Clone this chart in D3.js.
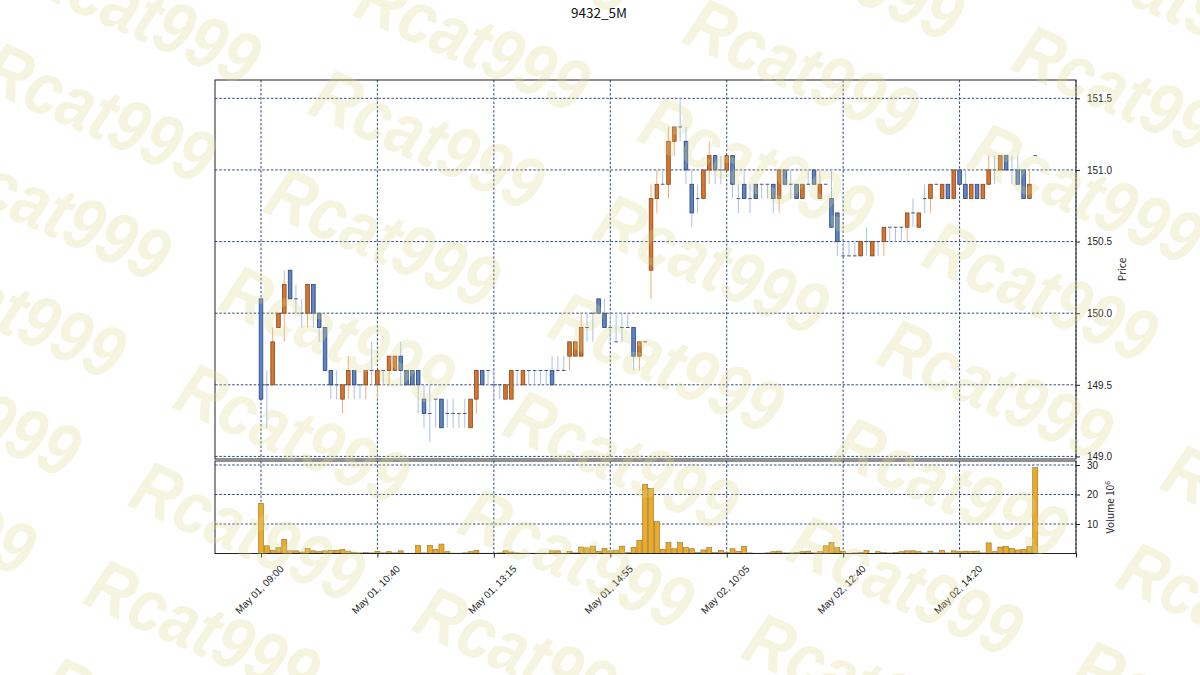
<!DOCTYPE html>
<html>
<head>
<meta charset="utf-8">
<script src="https://cdn.jsdelivr.net/npm/d3@7"></script>
<style>
  body { margin: 0; background: #fff; }
  svg { display: block; font-family: "Noto Sans CJK JP", "Noto Sans", sans-serif; }
</style>
</head>
<body>
<svg id="chart" width="1200" height="675"></svg>
<script>
// 9432, 5 minute bars, May 01 09:00 .. May 02 15:25 (index 0..133)
var tickIdx = [0, 20, 40, 60, 80, 100, 120, 140];
var tickLabels = ["May 01, 09:00", "May 01, 10:40", "May 01, 13:15", "May 01, 14:55",
                  "May 02, 10:05", "May 02, 12:40", "May 02, 14:20", ""];
var priceTicks = [149.0, 149.5, 150.0, 150.5, 151.0, 151.5];
var volumeTicks = [10, 20, 30];

var opens = [
  150.1,149.5,149.5,149.9,150.0,150.3,150.1,150.0,150.0,150.2,
  150.0,149.9,149.6,149.5,149.4,149.5,149.6,149.5,149.5,149.6,
  149.5,149.6,149.6,149.6,149.7,149.6,149.6,149.6,149.4,149.3,
  149.4,149.4,149.3,149.3,149.3,149.3,149.2,149.4,149.6,149.6,
  149.5,149.5,149.4,149.4,149.6,149.5,149.6,149.6,149.6,149.6,
  149.6,149.6,149.6,149.7,149.7,149.7,149.9,150.0,150.1,150.0,
  149.9,149.8,149.9,149.9,149.9,149.7,149.8,
  150.3,150.8,150.9,150.9,151.2,151.3,151.2,150.9,150.8,150.8,
  151.0,151.1,151.0,151.0,151.1,150.8,150.9,150.8,150.9,150.9,
  150.9,150.9,150.8,151.0,150.9,150.9,150.8,150.9,151.0,150.8,
  150.9,150.8,150.7,150.4,150.4,150.4,150.4,150.5,150.4,150.5,
  150.5,150.6,150.6,150.6,150.6,150.7,150.6,150.8,150.8,150.9,
  150.8,150.9,150.8,151.0,150.9,150.8,150.9,150.8,150.9,151.0,
  151.0,151.1,151.0,151.0,151.0,150.8,151.1
];
var highs = [
  150.1,149.6,149.9,150.0,150.3,150.3,150.2,150.1,150.2,150.2,
  150.0,149.9,149.6,149.6,149.5,149.7,149.6,149.5,149.6,149.8,
  149.6,149.6,149.7,149.7,149.8,149.6,149.6,149.6,149.5,149.5,
  149.4,149.4,149.4,149.4,149.3,149.4,149.4,149.6,149.6,149.6,
  149.6,149.5,149.5,149.6,149.6,149.6,149.6,149.6,149.6,149.6,
  149.7,149.7,149.7,149.8,149.8,150.0,150.0,150.0,150.1,150.1,
  150.0,150.0,150.0,150.0,149.9,149.8,149.8,
  150.9,151.0,151.0,151.3,151.3,151.5,151.3,151.0,150.9,151.0,
  151.2,151.1,151.1,151.1,151.1,150.9,151.0,150.9,150.9,150.9,
  150.9,150.9,151.0,151.0,151.0,150.9,150.9,151.0,151.0,151.0,
  150.9,151.0,150.7,150.5,150.5,150.5,150.5,150.6,150.5,150.5,
  150.6,150.6,150.6,150.6,150.7,150.8,150.7,150.9,150.9,150.9,
  150.9,150.9,151.0,151.0,151.0,150.9,150.9,150.9,151.1,151.1,
  151.1,151.1,151.1,151.1,151.0,151.0,151.1
];
var lows = [
  149.4,149.2,149.5,149.9,149.8,150.1,150.0,149.9,149.9,149.9,
  149.8,149.6,149.4,149.4,149.3,149.4,149.4,149.4,149.4,149.5,
  149.4,149.5,149.5,149.6,149.5,149.5,149.5,149.3,149.2,149.1,
  149.2,149.2,149.2,149.2,149.2,149.2,149.2,149.3,149.5,149.5,
  149.4,149.4,149.4,149.4,149.5,149.5,149.5,149.5,149.5,149.5,
  149.5,149.6,149.6,149.6,149.7,149.7,149.8,149.8,150.0,149.9,
  149.8,149.8,149.8,149.9,149.6,149.6,149.8,
  150.1,150.7,150.9,150.8,151.1,151.2,150.9,150.6,150.7,150.8,
  150.9,150.9,150.9,151.0,150.8,150.7,150.8,150.7,150.8,150.8,
  150.8,150.7,150.7,150.9,150.8,150.8,150.8,150.9,150.9,150.8,
  150.9,150.6,150.4,150.4,150.4,150.4,150.4,150.4,150.4,150.4,
  150.4,150.5,150.5,150.5,150.5,150.6,150.6,150.7,150.7,150.9,
  150.8,150.8,150.8,150.9,150.8,150.8,150.8,150.8,150.9,150.9,
  151.0,151.0,150.9,150.9,150.8,150.8,151.1
];
var closes = [
  149.4,149.5,149.8,150.0,150.2,150.1,150.1,150.0,150.2,150.0,
  149.9,149.6,149.5,149.5,149.5,149.6,149.5,149.5,149.6,149.6,
  149.6,149.6,149.7,149.7,149.6,149.5,149.5,149.5,149.3,149.3,
  149.4,149.2,149.3,149.3,149.3,149.3,149.4,149.6,149.5,149.6,
  149.5,149.5,149.5,149.6,149.6,149.6,149.6,149.6,149.6,149.6,
  149.5,149.6,149.6,149.8,149.8,149.9,149.9,150.0,150.0,149.9,
  149.9,149.8,149.9,149.9,149.7,149.8,149.8,
  150.8,150.9,150.9,151.2,151.3,151.3,151.0,150.7,150.8,151.0,
  151.1,151.0,151.0,151.1,150.9,150.8,150.8,150.8,150.8,150.9,
  150.9,150.8,151.0,150.9,150.9,150.8,150.9,150.9,150.9,150.9,
  150.9,150.6,150.5,150.4,150.4,150.4,150.5,150.5,150.5,150.5,
  150.6,150.6,150.6,150.6,150.7,150.7,150.7,150.8,150.9,150.9,
  150.9,150.8,151.0,150.9,150.8,150.9,150.8,150.9,151.0,151.0,
  151.1,151.0,151.0,150.9,150.8,150.9,151.1
];
// volume in millions of shares
var volumes = [
  17.0,2.6,1.1,2.0,4.8,0.9,0.9,0.5,1.7,0.9,
  0.6,0.9,1.1,1.1,1.4,0.8,0.3,0.2,0.3,0.2,
  0.7,0.2,0.6,0.2,0.9,0.1,0.1,2.8,0.2,2.8,
  1.4,3.2,0.6,0.1,0.1,0.2,0.6,1.1,0.1,0.1,
  0.1,0.2,0.9,0.5,0.2,0.1,0.1,0.1,0.1,0.1,
  0.9,0.9,0.1,0.7,0.2,2.2,1.9,2.5,0.7,1.7,
  0.9,1.1,2.5,0.3,2.0,4.4,23.4,
  22.1,10.8,1.4,3.7,1.6,3.7,2.0,1.6,0.3,1.2,
  2.0,0.3,1.1,0.3,1.6,0.7,2.4,0.2,0.1,0.1,
  0.2,0.6,0.8,0.2,0.2,0.3,0.6,0.8,0.2,0.6,
  2.6,3.7,2.0,0.8,0.1,0.2,0.3,1.1,0.1,0.6,
  0.3,0.2,0.3,0.6,0.9,0.9,0.6,0.2,0.8,0.2,
  1.0,0.2,0.9,0.6,0.8,0.7,0.8,0.2,3.6,0.6,
  2.2,2.4,1.7,1.2,1.4,2.4,29.1
];

var svg = d3.select("#chart");
svg.append("rect").attr("width", 1200).attr("height", 675).attr("fill", "#fff");

var left = 215, right = 1076,
    mainTop = 80, mainBottom = 459,
    volTop = 461, volBottom = 553.5;

var x = d3.scaleLinear().domain([-7.9, 140]).range([left, right]);
var yP = d3.scaleLinear().domain([148.982, 151.628]).range([mainBottom, mainTop]);
var yV = d3.scaleLinear().domain([0, 31.36]).range([volBottom, volTop]);
var step = x(1) - x(0);

var gridColor = "#1a3570";
var grid = svg.append("g")
  .attr("stroke", gridColor)
  .attr("stroke-width", 0.9)
  .attr("stroke-dasharray", "2.5,1.8");

tickIdx.forEach(function(d) {
  grid.append("line").attr("x1", x(d)).attr("x2", x(d)).attr("y1", mainTop).attr("y2", mainBottom);
  grid.append("line").attr("x1", x(d)).attr("x2", x(d)).attr("y1", volTop).attr("y2", volBottom);
});
priceTicks.forEach(function(d) {
  grid.append("line").attr("x1", left).attr("x2", right).attr("y1", yP(d)).attr("y2", yP(d));
});
volumeTicks.forEach(function(d) {
  grid.append("line").attr("x1", left).attr("x2", right).attr("y1", yV(d)).attr("y2", yV(d));
});

// candles
var bars = opens.map(function(o, i) {
  return {i: i, o: o, h: highs[i], l: lows[i], c: closes[i], v: volumes[i]};
});
var isUp = function(d) { return d.o < d.c; };
var bw = step * 0.62;

var candles = svg.append("g");
candles.selectAll(".wick")
  .data(bars)
  .enter().append("line")
  .attr("class", "wick")
  .attr("x1", function(d) { return x(d.i); })
  .attr("x2", function(d) { return x(d.i); })
  .attr("y1", function(d) { return yP(d.h); })
  .attr("y2", function(d) { return yP(d.l); })
  .attr("stroke", function(d) { return isUp(d) ? "#f1ae78" : "#a9c0e8"; })
  .attr("stroke-width", 1);

candles.selectAll(".body")
  .data(bars.filter(function(d) { return d.o !== d.c; }))
  .enter().append("rect")
  .attr("class", "body")
  .attr("x", function(d) { return x(d.i) - bw / 2; })
  .attr("y", function(d) { return yP(Math.max(d.o, d.c)); })
  .attr("width", bw)
  .attr("height", function(d) { return Math.abs(yP(d.o) - yP(d.c)); })
  .attr("fill", function(d) { return isUp(d) ? "#d9742c" : "#5b84c9"; })
  .attr("stroke", function(d) { return isUp(d) ? "#85461a" : "#2c426f"; })
  .attr("stroke-width", 0.8);

candles.selectAll(".doji")
  .data(bars.filter(function(d) { return d.o === d.c; }))
  .enter().append("line")
  .attr("class", "doji")
  .attr("x1", function(d) { return x(d.i) - bw / 2; })
  .attr("x2", function(d) { return x(d.i) + bw / 2; })
  .attr("y1", function(d) { return yP(d.o); })
  .attr("y2", function(d) { return yP(d.o); })
  .attr("stroke", "#4a5570")
  .attr("stroke-width", 1);

// volume
var vw = step * 0.86;
svg.append("g").selectAll("rect")
  .data(bars)
  .enter().append("rect")
  .attr("x", function(d) { return x(d.i) - vw / 2; })
  .attr("y", function(d) { return yV(d.v); })
  .attr("width", vw)
  .attr("height", function(d) { return yV(0) - yV(d.v); })
  .attr("fill", "#f0aa22")
  .attr("stroke", "#84723a")
  .attr("stroke-width", 0.6);

// frames
[[mainTop, mainBottom], [volTop, volBottom]].forEach(function(p) {
  svg.append("rect")
    .attr("x", left).attr("y", p[0])
    .attr("width", right - left).attr("height", p[1] - p[0])
    .attr("fill", "none").attr("stroke", "#222").attr("stroke-width", 1);
});

// axes
function styleAxis(g) {
  g.select(".domain").remove();
  g.selectAll(".tick line").attr("stroke", "#222");
  g.selectAll(".tick text").attr("fill", "#222").style("font-size", "10px");
}

svg.append("g")
  .attr("transform", "translate(" + right + ",0)")
  .call(d3.axisRight(yP).tickValues(priceTicks).tickFormat(d3.format(".1f")).tickSize(4).tickPadding(7))
  .call(styleAxis);

svg.append("g")
  .attr("transform", "translate(" + right + ",0)")
  .call(d3.axisRight(yV).tickValues(volumeTicks).tickFormat(d3.format("d")).tickSize(4).tickPadding(7))
  .call(styleAxis);

var xAxis = svg.append("g")
  .attr("transform", "translate(0," + volBottom + ")")
  .call(d3.axisBottom(x).tickValues(tickIdx)
    .tickFormat(function(d, i) { return tickLabels[i]; })
    .tickSize(4))
  .call(styleAxis);

xAxis.selectAll(".tick text")
  .attr("y", 0)
  .attr("dy", "0.35em")
  .attr("text-anchor", "middle")
  .attr("transform", "translate(-2,36) rotate(-45)");

// labels
svg.append("text")
  .attr("x", 599).attr("y", 18)
  .attr("text-anchor", "middle")
  .style("font-size", "13.5px")
  .attr("fill", "#111")
  .text("9432_5M");

svg.append("text")
  .attr("transform", "translate(1122," + ((mainTop + mainBottom) / 2) + ") rotate(-90)")
  .attr("text-anchor", "middle")
  .attr("dy", "0.35em")
  .style("font-size", "10px")
  .attr("fill", "#222")
  .text("Price");

var volLabel = svg.append("text")
  .attr("transform", "translate(1110," + ((volTop + volBottom) / 2) + ") rotate(-90)")
  .attr("text-anchor", "middle")
  .attr("dy", "0.35em")
  .style("font-size", "10px")
  .attr("fill", "#222");
volLabel.append("tspan").text("Volume  10");
volLabel.append("tspan").attr("dy", "-0.45em").style("font-size", "7px").text("6");

// watermark tiles
var wm = svg.append("g")
  .attr("fill", "#d8d88c")
  .attr("opacity", 0.28)
  .style("font-family", "'Liberation Sans', Arial, sans-serif")
  .style("font-weight", "bold")
  .style("font-style", "italic")
  .style("font-size", "74px")
  .style("pointer-events", "none");

for (var i = -2; i <= 4; i++) {
  for (var j = -2; j <= 8; j++) {
    var wx = 306 + 329 * i - 45 * j,
        wy = 113 + 27 * i + 98 * j;
    if (wx < -300 || wx > 1250 || wy < -150 || wy > 760) continue;
    wm.append("text")
      .attr("transform", "translate(" + wx + "," + wy + ") rotate(24) scale(0.86,1)")
      .text("Rcat999");
  }
}
</script>
</body>
</html>
